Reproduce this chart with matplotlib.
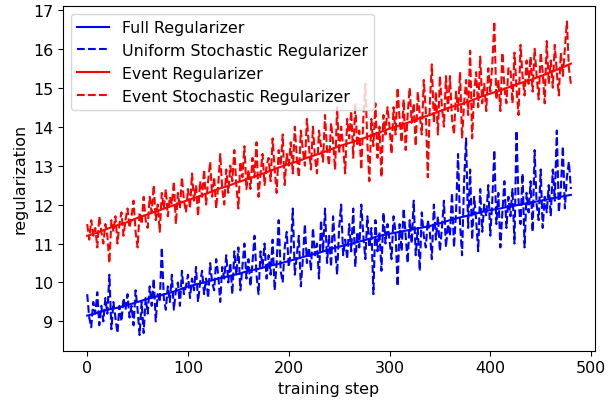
import numpy as np
import matplotlib
matplotlib.use('Agg')
import matplotlib.pyplot as plt

plt.rcParams['font.size'] = 11.4

# smooth curves, read every 10 training steps
full_reg = [9.15, 9.22, 9.30, 9.35, 9.42, 9.50, 9.58, 9.65, 9.72, 9.80,
            9.90, 9.96, 10.03, 10.10, 10.16, 10.22, 10.30, 10.35, 10.42, 10.48,
            10.55, 10.62, 10.70, 10.76, 10.85, 10.92, 10.98, 11.05, 11.12, 11.20,
            11.25, 11.30, 11.35, 11.40, 11.45, 11.52, 11.60, 11.67, 11.73, 11.80,
            11.86, 11.90, 11.96, 12.00, 12.05, 12.10, 12.15, 12.20, 12.25]
event_reg = [11.20, 11.28, 11.38, 11.47, 11.55, 11.66, 11.75, 11.84, 11.93, 12.02,
             12.12, 12.20, 12.30, 12.40, 12.48, 12.58, 12.66, 12.76, 12.85, 12.95,
             13.04, 13.12, 13.22, 13.30, 13.40, 13.50, 13.58, 13.66, 13.76, 13.85,
             13.95, 14.03, 14.12, 14.22, 14.30, 14.40, 14.50, 14.57, 14.66, 14.76,
             14.85, 14.93, 15.03, 15.12, 15.20, 15.30, 15.40, 15.50, 15.62]

# noisy curves, read every 2 training steps
uniform_stoch = [9.7, 9.1, 8.85, 9.5, 9.2, 9.75, 8.9, 9.4, 9.0, 9.6,
                 9.2, 10.2, 8.8, 9.5, 9.1, 8.7, 9.4, 9.0, 9.6, 9.3,
                 9.7, 9.1, 9.4, 8.9, 9.8, 9.3, 8.65, 9.5, 8.7, 9.6,
                 9.2, 9.9, 9.4, 10.1, 9.0, 9.7, 9.5, 10.9, 9.6, 9.3,
                 9.9, 9.5, 10.2, 9.3, 9.8, 10.0, 9.4, 10.3, 9.7, 9.9,
                 10.2, 9.6, 10.1, 9.8, 10.4, 9.5, 10.0, 10.3, 9.7, 10.1,
                 9.6, 10.5, 10.0, 9.8, 10.6, 10.2, 9.5, 10.4, 10.1, 10.7,
                 10.0, 10.5, 9.7, 10.8, 10.2, 10.9, 9.8, 10.4, 11.0, 10.1,
                 10.6, 9.9, 10.5, 11.2, 10.2, 9.7, 10.8, 10.4, 11.0, 10.1,
                 10.7, 10.2, 11.1, 9.8, 10.5, 11.6, 10.3, 10.0, 10.9, 11.3,
                 10.4, 10.8, 11.9, 10.2, 10.7, 11.2, 9.9, 10.6, 11.5, 10.5,
                 10.9, 10.3, 11.4, 10.7, 11.0, 10.1, 11.6, 10.8, 11.9, 10.5,
                 11.2, 10.4, 11.7, 10.9, 10.2, 11.4, 12.0, 10.7, 11.1, 10.6,
                 11.5, 10.8, 11.9, 10.4, 11.3, 10.9, 12.0, 11.2, 10.6, 11.7,
                 10.9, 11.4, 9.7, 11.6, 10.8, 11.3, 10.3, 11.8, 11.0, 11.5,
                 11.1, 10.6, 11.7, 11.3, 9.9, 11.5, 10.8, 11.9, 11.2, 10.5,
                 11.6, 11.0, 12.1, 10.7, 11.4, 10.3, 11.8, 11.2, 10.9, 11.6,
                 11.3, 10.6, 12.0, 11.1, 11.7, 10.8, 11.4, 12.1, 10.9, 11.5,
                 11.2, 12.3, 10.9, 11.8, 13.3, 11.5, 10.7, 12.6, 13.7, 11.4,
                 12.9, 11.1, 12.2, 11.6, 10.8, 12.4, 11.3, 12.0, 11.7, 12.5,
                 11.2, 12.1, 13.4, 11.5, 12.3, 10.9, 11.8, 12.6, 11.4, 12.2,
                 11.7, 12.4, 11.0, 13.9, 12.1, 11.5, 12.8, 10.9, 12.3, 11.8,
                 12.6, 11.3, 13.4, 12.0, 11.6, 12.9, 11.4, 12.2, 11.8, 12.5,
                 11.7, 12.9, 12.1, 13.9, 11.8, 12.4, 13.5, 11.9, 12.7, 13.1,
                 12.4]
event_stoch = [11.5, 11.1, 11.6, 11.2, 11.4, 10.9, 11.7, 11.3, 11.0, 11.5,
               11.2, 10.5, 11.6, 11.3, 11.7, 11.0, 11.5, 11.8, 11.2, 11.6,
               11.9, 11.4, 11.7, 12.1, 11.3, 10.9, 11.8, 11.5, 12.2, 11.6,
               11.4, 12.2, 11.8, 12.5, 11.6, 12.0, 11.3, 12.3, 11.9, 12.4,
               11.7, 12.2, 12.0, 12.6, 11.5, 12.3, 11.9, 12.7, 12.1, 11.8,
               12.4, 11.9, 12.8, 12.1, 12.5, 11.7, 12.6, 12.2, 12.9, 12.0,
               12.6, 13.1, 12.2, 12.7, 11.9, 12.5, 13.3, 12.4, 12.0, 12.9,
               12.3, 13.0, 12.6, 13.4, 12.5, 11.9, 13.1, 12.7, 13.5, 12.4,
               12.9, 12.4, 13.2, 12.7, 13.6, 12.2, 12.8, 13.3, 12.5, 13.0,
               13.2, 12.6, 13.7, 12.9, 12.3, 13.4, 13.0, 13.8, 12.5, 13.3,
               13.0, 13.6, 12.8, 14.0, 13.2, 12.7, 13.9, 13.4, 13.0, 14.2,
               13.5, 12.9, 14.0, 13.2, 12.8, 13.9, 13.5, 13.1, 14.3, 13.4,
               13.0, 14.1, 13.6, 12.9, 14.5, 13.3, 14.0, 13.5, 12.8, 14.2,
               13.7, 14.4, 13.2, 14.6, 13.5, 13.9, 12.9, 14.2, 15.1, 13.6,
               12.6, 14.2, 13.5, 14.6, 13.2, 14.0, 12.7, 14.3, 13.8, 14.5,
               14.0, 13.3, 14.5, 13.8, 15.0, 14.2, 13.6, 14.7, 13.4, 14.3,
               15.0, 14.1, 14.6, 13.5, 14.9, 14.3, 13.8, 15.2, 14.4, 12.7,
               14.6, 15.6, 14.1, 14.9, 13.8, 15.3, 14.5, 14.0, 15.3, 14.4,
               15.3, 14.2, 13.8, 14.9, 14.4, 15.4, 13.7, 14.6, 15.2, 14.3,
               15.95, 13.7, 14.9, 15.4, 14.5, 15.8, 14.6, 15.1, 14.4, 15.5,
               14.9, 15.6, 16.7, 14.7, 15.2, 14.4, 15.9, 15.0, 14.6, 15.5,
               15.5, 14.6, 15.9, 15.0, 14.3, 16.1, 15.3, 14.8, 15.7, 15.1,
               15.8, 14.9, 16.0, 15.3, 14.7, 15.9, 15.4, 14.6, 16.2, 15.1,
               15.7, 15.0, 16.1, 15.4, 14.8, 15.9, 15.3, 16.0, 16.7, 15.5,
               15.1]

steps_smooth = np.arange(len(full_reg)) * 10
steps_noisy = np.arange(len(uniform_stoch)) * 2

fig, ax = plt.subplots(figsize=(6.06, 4.02), dpi=100)
fig.subplots_adjust(left=0.104, right=0.982, top=0.983, bottom=0.125)

ax.plot(steps_smooth, full_reg, 'b-', label='Full Regularizer')
ax.plot(steps_noisy, uniform_stoch, 'b--', label='Uniform Stochastic Regularizer')
ax.plot(steps_smooth, event_reg, 'r-', label='Event Regularizer')
ax.plot(steps_noisy, event_stoch, 'r--', label='Event Stochastic Regularizer')

ax.set_xlabel('training step')
ax.set_ylabel('regularization')
ax.legend(loc='upper left')

fig.savefig('out.png', dpi=100)
